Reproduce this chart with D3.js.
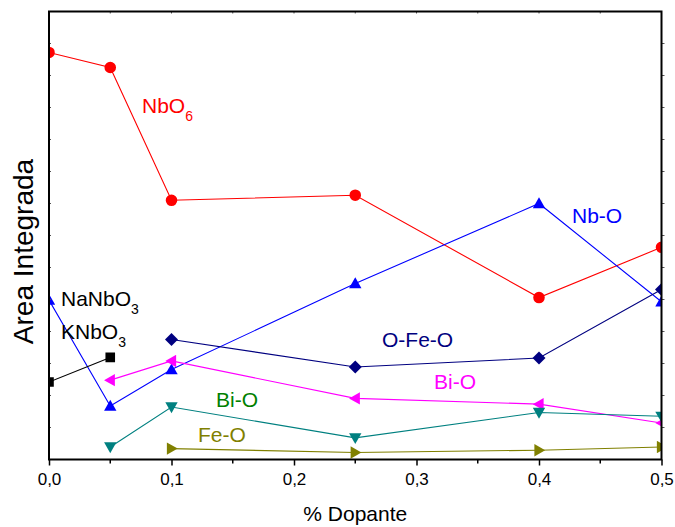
<!DOCTYPE html>
<html>
<head>
<meta charset="utf-8">
<script src="https://cdn.jsdelivr.net/npm/d3@7"></script>
<style>
  html, body { margin: 0; padding: 0; background: #fff; }
  svg { display: block; font-family: "Liberation Sans", Arial, sans-serif; }
</style>
</head>
<body>
<svg id="chart" width="675" height="527"></svg>
<script>
// Dopant fraction (x) and integrated band areas (arbitrary units)
const dopante = [0, 0.05, 0.1, 0.25, 0.4, 0.5];
const xTicks = [0, 0.1, 0.2, 0.3, 0.4, 0.5];
const xTickLabels = ["0,0", "0,1", "0,2", "0,3", "0,4", "0,5"];

const nbo6   = [12.72, 12.25, 8.10, 8.26, 5.06, 6.63];
const nbO    = [4.98, 1.67, 2.81, 5.50, 8.00, 4.93];
const oFeO   = [null, null, 3.75, 2.89, 3.17, 5.31];
const biOa   = [null, 2.48, 3.08, 1.91, 1.73, 1.14];
const biOb   = [null, 0.39, 1.64, 0.675, 1.47, 1.35];
const feO    = [null, null, 0.34, 0.22, 0.29, 0.39];
const knbo3  = [2.42, 3.19, null, null, null, null];

const series = [
  { name: "NbO6",   values: nbo6,  color: "#ff0000", symbol: "circle" },
  { name: "Nb-O",   values: nbO,   color: "#0000ff", symbol: "triUp" },
  { name: "O-Fe-O", values: oFeO,  color: "#000080", symbol: "diamond" },
  { name: "Bi-O",   values: biOa,  color: "#ff00ff", symbol: "triLeft" },
  { name: "Bi-O 2", values: biOb,  color: "#008080", symbol: "triDown" },
  { name: "Fe-O",   values: feO,   color: "#808000", symbol: "triRight" },
  { name: "KNbO3",  values: knbo3, color: "#000000", symbol: "square" }
];

const svg = d3.select("#chart");
const x0 = 49, x1 = 661.5, y0 = 459.5, y1 = 11.5;
const x = d3.scaleLinear().domain([0, 0.5]).range([x0, x1]);
const y = d3.scaleLinear().domain([0, 14]).range([y0, y1]);

svg.append("defs").append("clipPath").attr("id", "plotClip")
  .append("rect").attr("x", x0).attr("y", y1).attr("width", x1 - x0).attr("height", y0 - y1);

const plot = svg.append("g").attr("clip-path", "url(#plotClip)");

// Marker path generators, centred on (0,0)
function markerPath(sym) {
  const s = 6.2;
  switch (sym) {
    case "circle": return d3.symbol(d3.symbolCircle, 105)();
    case "square": return "M-4.8,-4.8H4.8V4.8H-4.8Z";
    case "diamond": return `M0,${-s * 1.05}L${s * 1.05},0L0,${s * 1.05}L${-s * 1.05},0Z`;
    case "triUp": return `M0,${-s}L${s},${s * 0.75}L${-s},${s * 0.75}Z`;
    case "triDown": return `M0,${s}L${s},${-s * 0.75}L${-s},${-s * 0.75}Z`;
    case "triLeft": return `M${-s},0L${s * 0.75},${-s}L${s * 0.75},${s}Z`;
    case "triRight": return `M${s},0L${-s * 0.75},${-s}L${-s * 0.75},${s}Z`;
  }
}

const line = d3.line()
  .defined(d => d.v != null)
  .x(d => x(d.x))
  .y(d => y(d.v));

series.forEach(s => {
  const pts = dopante.map((xv, i) => ({ x: xv, v: s.values[i] })).filter(d => d.v != null);
  plot.append("path")
    .datum(pts)
    .attr("fill", "none")
    .attr("stroke", s.color)
    .attr("stroke-width", 1.1)
    .attr("d", line);
  plot.selectAll(null)
    .data(pts)
    .enter().append("path")
    .attr("transform", d => `translate(${x(d.x)},${y(d.v)})`)
    .attr("d", markerPath(s.symbol))
    .attr("fill", s.color);
});

// Axes frame
const axisColor = "#000";
const bottomAxis = d3.axisBottom(x)
  .tickValues(xTicks)
  .tickFormat((d, i) => xTickLabels[i])
  .tickSize(6)
  .tickPadding(7);
const gx = svg.append("g").attr("transform", `translate(0,${y0})`).call(bottomAxis);
gx.select(".domain").remove();
gx.selectAll(".tick line").attr("stroke", axisColor).attr("stroke-width", 1.5);
gx.selectAll(".tick text").attr("font-size", 17).attr("fill", "#000")
  .attr("font-family", "\"Liberation Sans\", Arial, sans-serif");

// Minor ticks at the half-steps
const minor = d3.range(0.05, 0.5, 0.1);
svg.append("g").selectAll("line").data(minor).enter().append("line")
  .attr("x1", d => x(d)).attr("x2", d => x(d))
  .attr("y1", y0).attr("y2", y0 + 4)
  .attr("stroke", axisColor).attr("stroke-width", 1.5);

// Top axis: short inward ticks every 0.05
svg.append("g").selectAll("line").data(d3.range(0.05, 0.5, 0.05)).enter().append("line")
  .attr("x1", d => x(d)).attr("x2", d => x(d))
  .attr("y1", y1).attr("y2", y1 + 2)
  .attr("stroke", "#555").attr("stroke-width", 1);

// Left and right axes: small unlabeled ticks
const yTicks = d3.range(1, 14, 1);
svg.append("g").selectAll("line").data(yTicks).enter().append("line")
  .attr("x1", x0).attr("x2", x0 + 2)
  .attr("y1", d => y(d)).attr("y2", d => y(d))
  .attr("stroke", "#555").attr("stroke-width", 1);
svg.append("g").selectAll("line").data(yTicks).enter().append("line")
  .attr("x1", x1).attr("x2", x1 + 3)
  .attr("y1", d => y(d)).attr("y2", d => y(d))
  .attr("stroke", "#555").attr("stroke-width", 1);

svg.append("rect")
  .attr("x", x0).attr("y", y1)
  .attr("width", x1 - x0).attr("height", y0 - y1)
  .attr("fill", "none").attr("stroke", axisColor).attr("stroke-width", 2);

// Axis titles
svg.append("text")
  .attr("x", (x0 + x1) / 2).attr("y", 521)
  .attr("text-anchor", "middle")
  .attr("font-size", 21)
  .text("% Dopante");

svg.append("text")
  .attr("transform", `translate(33,${(y0 + y1) / 2 + 16}) rotate(-90)`)
  .attr("text-anchor", "middle")
  .attr("font-size", 28)
  .text("Area Integrada");

// Series labels
function label(xp, yp, color, main, sub) {
  const t = svg.append("text").attr("x", xp).attr("y", yp)
    .attr("font-size", 21).attr("fill", color);
  t.append("tspan").text(main);
  if (sub) {
    t.append("tspan").attr("font-size", 14).attr("dy", 8).text(sub);
  }
}
label(142, 113, "#ff0000", "NbO", "6");
label(572, 223, "#0000ff", "Nb-O");
label(61, 306, "#000000", "NaNbO", "3");
label(61, 339, "#000000", "KNbO", "3");
label(382, 347, "#000080", "O-Fe-O");
label(434, 389, "#ff00ff", "Bi-O");
label(216, 407, "#008000", "Bi-O");
label(198, 442, "#808000", "Fe-O");
</script>
</body>
</html>
